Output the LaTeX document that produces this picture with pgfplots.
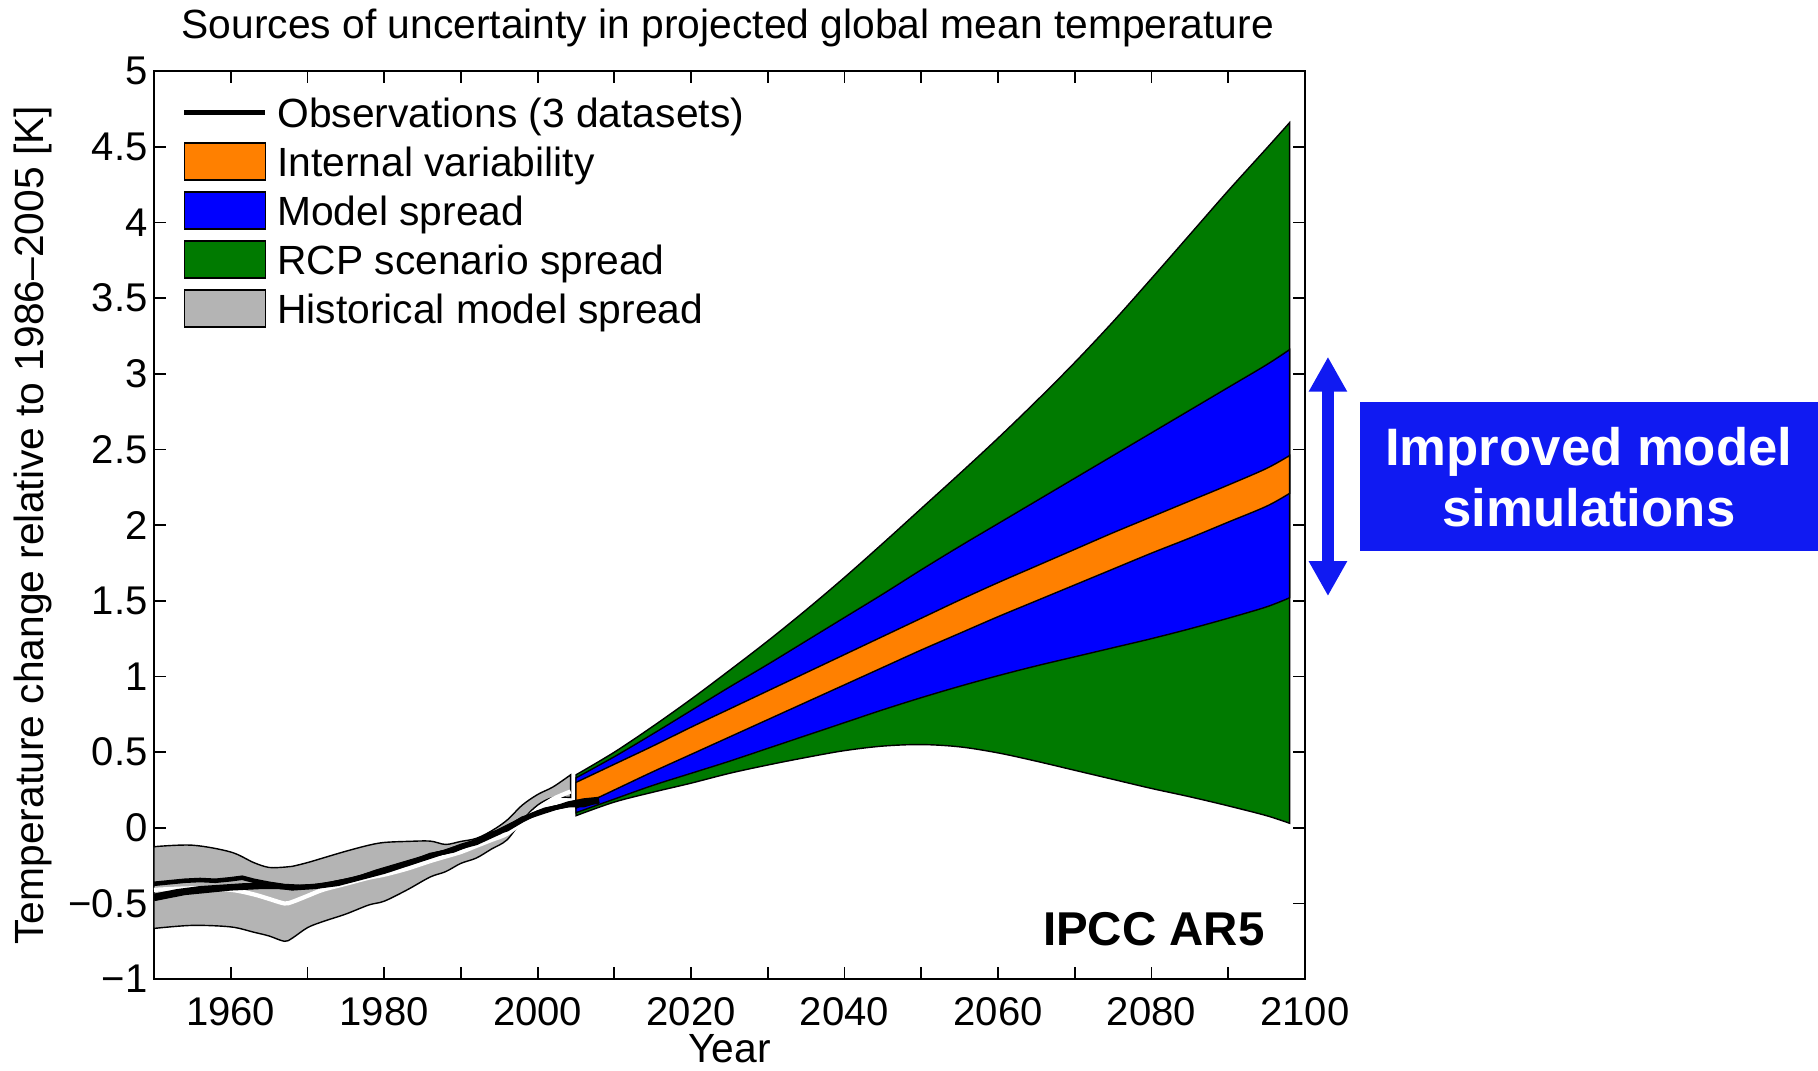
\documentclass[border=0pt]{standalone}
\usepackage{pgfplots}
\pgfplotsset{compat=1.18}
\usepackage{pgfplotstable}
\usepgfplotslibrary{fillbetween}
\usetikzlibrary{arrows.meta}
\usepackage{fontspec}
\setmainfont{Liberation Sans}
\definecolor{rcpgreen}{RGB}{0,122,0}
\definecolor{mblue}{RGB}{0,0,255}
\definecolor{iorange}{RGB}{255,128,0}
\definecolor{hgray}{RGB}{180,180,180}
\definecolor{annblue}{RGB}{16,26,242}

\pgfplotsset{
  boxleg/.style={legend image code/.code={\draw[##1] (0cm,-0.185cm) rectangle (0.81cm,0.185cm);}},
  lineleg/.style={legend image code/.code={\draw[##1] (0cm,0cm) -- (0.81cm,0cm);}},
  edge/.style={draw=none, forget plot, smooth, tension=0.55},
}

\pgfplotstableread{
year gLo bLo oLo oHi bHi gHi
2005 0.08 0.10 0.13 0.30 0.33 0.35
2010 0.17 0.19 0.25 0.42 0.47 0.50
2015 0.235 0.28 0.37 0.54 0.62 0.67
2020 0.295 0.36 0.485 0.665 0.775 0.85
2025 0.36 0.44 0.60 0.785 0.93 1.04
2030 0.415 0.525 0.715 0.905 1.08 1.235
2035 0.465 0.61 0.83 1.025 1.235 1.44
2040 0.51 0.695 0.945 1.145 1.39 1.655
2045 0.54 0.78 1.06 1.265 1.545 1.88
2050 0.55 0.86 1.175 1.385 1.705 2.11
2055 0.535 0.935 1.285 1.505 1.86 2.34
2060 0.495 1.005 1.395 1.62 2.01 2.575
2065 0.44 1.07 1.50 1.73 2.16 2.82
2070 0.38 1.13 1.605 1.84 2.31 3.075
2075 0.32 1.19 1.71 1.95 2.46 3.345
2080 0.26 1.25 1.815 2.055 2.61 3.63
2085 0.205 1.315 1.915 2.16 2.76 3.92
2090 0.145 1.385 2.02 2.265 2.91 4.21
2095 0.08 1.46 2.125 2.375 3.06 4.49
2098 0.03 1.52 2.21 2.46 3.16 4.66
}\proj

\pgfplotstableread{
year lo hi mean
1950 -0.665 -0.125 -0.41
1955 -0.645 -0.115 -0.40
1960 -0.655 -0.160 -0.41
1963 -0.690 -0.230 -0.44
1965 -0.715 -0.262 -0.47
1967 -0.750 -0.260 -0.50
1968 -0.730 -0.255 -0.49
1970 -0.660 -0.230 -0.45
1972 -0.620 -0.200 -0.41
1975 -0.570 -0.155 -0.37
1978 -0.510 -0.115 -0.33
1980 -0.485 -0.097 -0.31
1983 -0.410 -0.090 -0.27
1986 -0.325 -0.088 -0.22
1988 -0.290 -0.110 -0.19
1990 -0.235 -0.090 -0.16
1992 -0.200 -0.070 -0.12
1994 -0.140 -0.020 -0.08
1996 -0.080 0.050 -0.04
1998 0.050 0.150 0.04
2000 0.150 0.220 0.12
2002 0.200 0.270 0.19
2004.3 0.200 0.350 0.24
}\hist

\pgfplotstableread{
year t
1950 -0.37
1952 -0.36
1954 -0.35
1956 -0.345
1958 -0.35
1960 -0.34
1961.5 -0.33
1963 -0.35
1965 -0.37
1967 -0.385
1969 -0.39
1971 -0.385
1973 -0.37
1975 -0.35
1977 -0.325
1979 -0.29
1981 -0.26
1983 -0.23
1985 -0.20
1987 -0.17
1989 -0.15
1991 -0.11
1993 -0.07
1995 -0.02
1997 0.03
1999 0.08
2001 0.12
2003 0.14
2005 0.16
2006.5 0.17
2008 0.17
}\obsA

\pgfplotstableread{
year t
1950 -0.47
1952 -0.45
1954 -0.43
1956 -0.42
1958 -0.41
1960 -0.40
1962 -0.395
1964 -0.39
1966 -0.39
1968 -0.395
1970 -0.39
1972 -0.38
1974 -0.36
1976 -0.34
1978 -0.31
1980 -0.28
1982 -0.25
1984 -0.22
1986 -0.18
1988 -0.16
1990 -0.12
1992 -0.09
1994 -0.04
1996 -0.01
1998 0.05
2000 0.10
2002 0.13
2004 0.15
2006 0.15
2008 0.18
}\obsB

\pgfplotstableread{
year t
1950 -0.45
1953 -0.42
1956 -0.40
1959 -0.39
1962 -0.38
1965 -0.38
1968 -0.40
1971 -0.39
1974 -0.37
1977 -0.33
1980 -0.29
1983 -0.24
1986 -0.19
1989 -0.14
1992 -0.10
1995 -0.03
1998 0.06
2001 0.11
2004 0.16
2006 0.18
2008 0.19
}\obsC

\begin{document}
\begin{tikzpicture}
\begin{axis}[
  scale only axis, width=11.51cm, height=9.08cm,
  xmin=1950, xmax=2100, ymin=-1, ymax=5,
  clip=false,
  axis line style={black, line width=0.5pt},
  xtick={1960,1980,2000,2020,2040,2060,2080,2100},
  xticklabels={1960,1980,2000,2020,2040,2060,2080,2100},
  minor xtick={1970,1990,2010,2030,2050,2070,2090},
  ytick={-1,-0.5,0,0.5,1,1.5,2,2.5,3,3.5,4,4.5,5},
  yticklabels={−1,−0.5,0,0.5,1,1.5,2,2.5,3,3.5,4,4.5,5},
  tick align=inside, major tick length=0.12cm, minor tick length=0.12cm,
  tick style={black, line width=0.5pt},
  ticklabel style={font=\fontsize{11.4}{13}\selectfont},
  xticklabel style={yshift=-0.06cm},
  yticklabel style={xshift=0.06cm},
  xlabel={Year},
  ylabel={Temperature change relative to 1986–2005 [K]},
  label style={font=\fontsize{11.6}{14}\selectfont},
  xlabel style={at={(axis description cs:0.5,-0.0771)}, anchor=center},
  ylabel style={at={(axis description cs:-0.1051,0.5)}, anchor=center},
  legend cell align=left,
  legend style={at={(rel axis cs:0.0243,0.976)}, anchor=north west,
    draw=none, fill=none, inner sep=0pt, outer sep=0pt,
    row sep=0.10cm, column sep=0.094cm,
    font=\fontsize{11.6}{14}\selectfont,
    nodes={inner sep=0pt, text height=0.345cm, text depth=0.045cm}},
]
% legend entries
\addlegendimage{lineleg, black, line width=1.4pt}
\addlegendentry{Observations (3 datasets)}
\addlegendimage{boxleg, fill=iorange, draw=black, line width=0.4pt}
\addlegendentry{Internal variability}
\addlegendimage{boxleg, fill=mblue, draw=black, line width=0.4pt}
\addlegendentry{Model spread}
\addlegendimage{boxleg, fill=rcpgreen, draw=black, line width=0.4pt}
\addlegendentry{RCP scenario spread}
\addlegendimage{boxleg, fill=hgray, draw=black, line width=0.4pt}
\addlegendentry{Historical model spread}

% historical model spread
\addplot[edge, name path=hlo] table[x=year,y=lo]{\hist};
\addplot[edge, name path=hhi] table[x=year,y=hi]{\hist};
\addplot[fill=hgray, draw=black, line width=0.4pt, forget plot] fill between[of=hhi and hlo];
\addplot[white, line width=1.2pt, forget plot, smooth, tension=0.5] table[x=year,y=mean]{\hist};

% projections
\addplot[edge, name path=glo] table[x=year,y=gLo]{\proj};
\addplot[edge, name path=ghi] table[x=year,y=gHi]{\proj};
\addplot[fill=rcpgreen, draw=black, line width=0.4pt, forget plot] fill between[of=ghi and glo];
\addplot[edge, name path=blo] table[x=year,y=bLo]{\proj};
\addplot[edge, name path=bhi] table[x=year,y=bHi]{\proj};
\addplot[fill=mblue, draw=black, line width=0.4pt, forget plot] fill between[of=bhi and blo];
\addplot[edge, name path=olo] table[x=year,y=oLo]{\proj};
\addplot[edge, name path=ohi] table[x=year,y=oHi]{\proj};
\addplot[fill=iorange, draw=black, line width=0.4pt, forget plot] fill between[of=ohi and olo];

% observations
\addplot[black, line width=1.3pt, forget plot] table[x=year,y=t]{\obsA};
\addplot[black, line width=1.3pt, forget plot] table[x=year,y=t]{\obsB};
\addplot[black, line width=1.3pt, forget plot] table[x=year,y=t]{\obsC};

% annotations
\node[anchor=base, inner sep=0pt, font=\fontsize{11.6}{14}\selectfont] at (axis cs:2024.8,5.219) {Sources of uncertainty in projected global mean temperature};
\node[anchor=base, inner sep=0pt, font=\bfseries\fontsize{13.5}{16}\selectfont] at (axis cs:2080.3,-0.775) {IPCC AR5};
\draw[annblue, line width=0.116cm, {Triangle[width=0.36cm,length=0.35cm]}-{Triangle[width=0.36cm,length=0.35cm]}] (axis cs:2103.0,3.113) -- (axis cs:2103.0,1.531);
\fill[annblue] (axis cs:2107.2,2.816) rectangle (axis cs:2166.87,1.831);
\node[anchor=base, inner sep=0pt, white, font=\bfseries\fontsize{15}{18}\selectfont] at (axis cs:2137.0,2.397) {Improved model};
\node[anchor=base, inner sep=0pt, white, font=\bfseries\fontsize{15}{18}\selectfont] at (axis cs:2137.0,1.994) {simulations};
\coordinate (bbSW) at (axis cs:1929.93,-1.6014);
\coordinate (bbNE) at (axis cs:2166.87,5.4706);
\end{axis}
\pgfresetboundingbox
\path[use as bounding box] (bbSW) rectangle (bbNE);
\end{tikzpicture}
\end{document}
